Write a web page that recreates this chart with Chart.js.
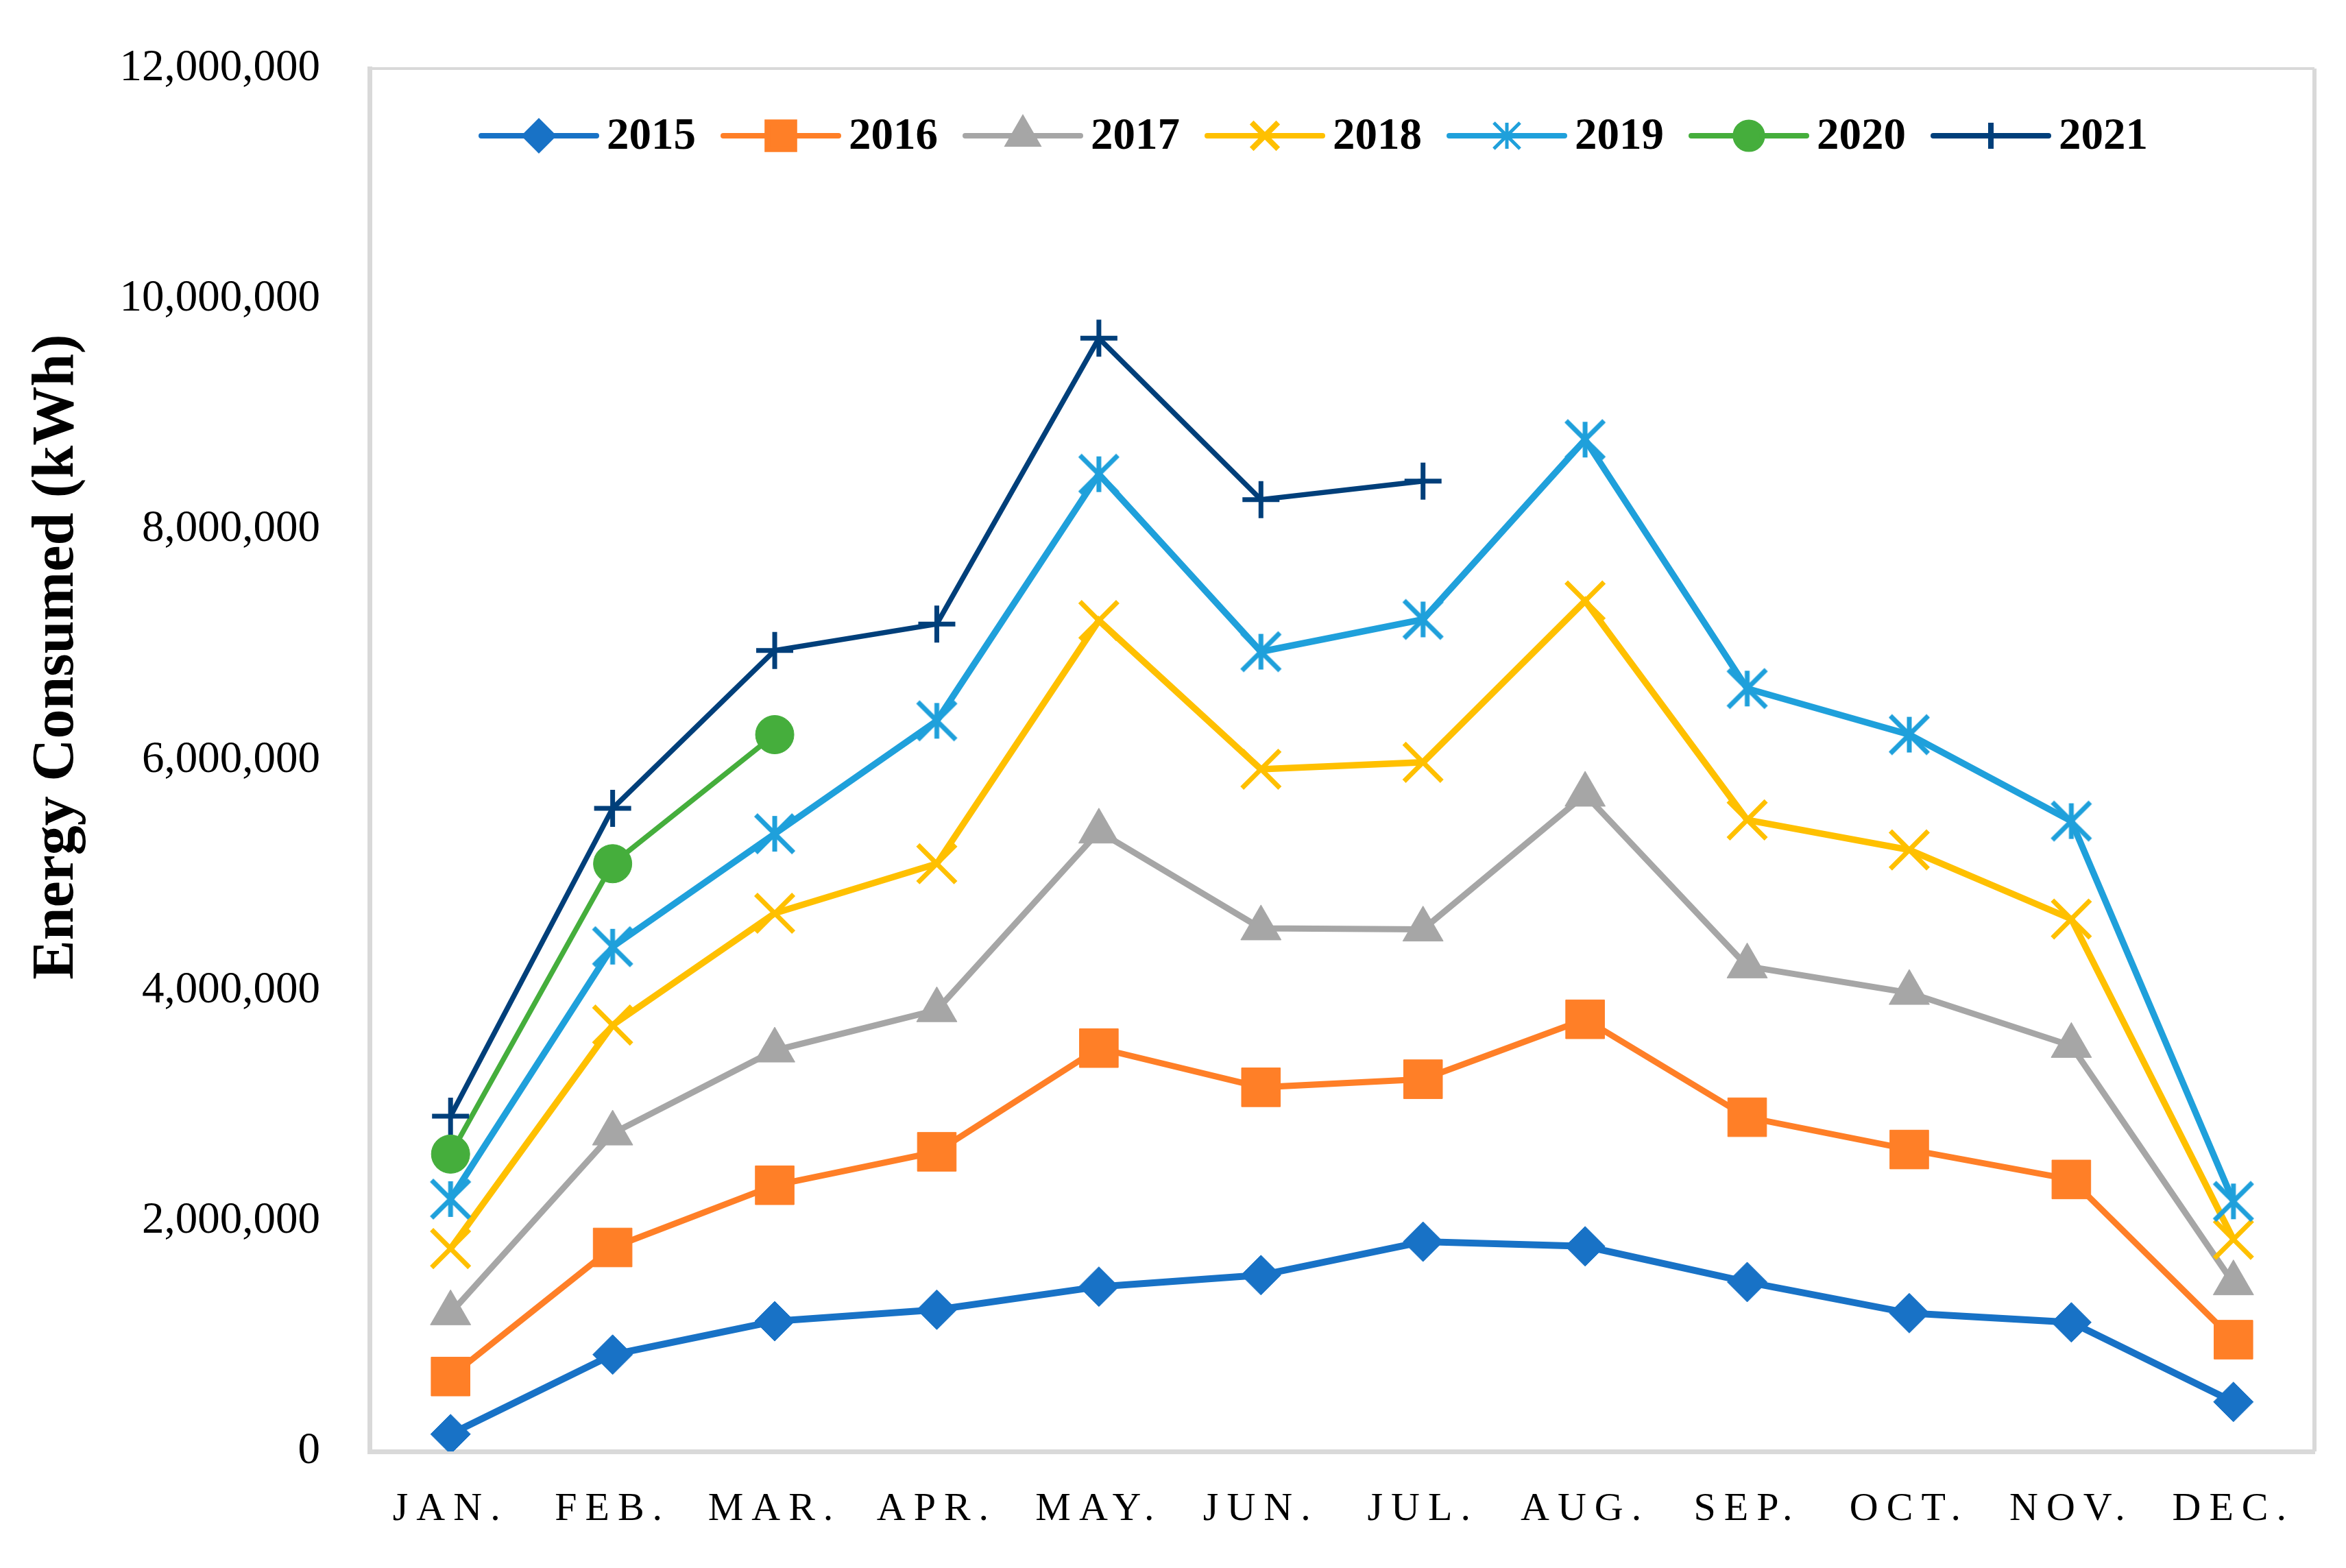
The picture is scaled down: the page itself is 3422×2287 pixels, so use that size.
<!DOCTYPE html>
<html lang="en">
  <head>
    <meta charset="UTF-8" />
    <title>Energy Consumed</title>
    <style>
      body { margin: 0; background: #fff; }
    </style>
  </head>
  <body>
    <canvas id="energyChart" width="3422" height="2287"></canvas>
    <script src="https://cdn.jsdelivr.net/npm/chart.js"></script>
    <script>
      const months = ['JAN.', 'FEB.', 'MAR.', 'APR.', 'MAY.', 'JUN.', 'JUL.', 'AUG.', 'SEP.', 'OCT.', 'NOV.', 'DEC.'];
      const years = ['2015', '2016', '2017', '2018', '2019', '2020', '2021'];

      const y2015 = [150000, 840000, 1130000, 1230000, 1430000, 1530000, 1820000, 1780000, 1470000, 1200000, 1120000, 430000];
      const y2016 = [650000, 1770000, 2310000, 2600000, 3500000, 3160000, 3230000, 3750000, 2900000, 2620000, 2360000, 970000];
      const y2017 = [1200000, 2760000, 3480000, 3830000, 5380000, 4540000, 4530000, 5700000, 4210000, 3980000, 3520000, 1460000];
      const y2018 = [1760000, 3700000, 4670000, 5100000, 7210000, 5920000, 5980000, 7380000, 5480000, 5220000, 4620000, 1840000];
      const y2019 = [2190000, 4380000, 5360000, 6340000, 8480000, 6940000, 7220000, 8780000, 6620000, 6220000, 5470000, 2170000];
      const y2020 = [2580000, 5100000, 6220000, null, null, null, null, null, null, null, null, null];
      const y2021 = [2910000, 5580000, 6950000, 7180000, 9660000, 8260000, 8420000, null, null, null, null, null];

      const yTicks = [0, 2000000, 4000000, 6000000, 8000000, 10000000, 12000000];
      const yTitle = 'Energy Consumed (kWh)';

      const serif = "'Liberation Serif', 'DejaVu Serif', serif";

      // six-ray asterisk like the spreadsheet "star" marker
      function asterisk(color, arm, stem, lw) {
        const size = Math.ceil(arm * 2 + lw * 2);
        const c = document.createElement('canvas');
        c.width = size;
        c.height = size;
        const g = c.getContext('2d');
        const m = size / 2;
        const d = arm * Math.SQRT1_2;
        g.strokeStyle = color;
        g.lineWidth = lw;
        g.beginPath();
        g.moveTo(m - d, m - d);
        g.lineTo(m + d, m + d);
        g.moveTo(m + d, m - d);
        g.lineTo(m - d, m + d);
        g.moveTo(m, m - stem);
        g.lineTo(m, m + stem);
        g.stroke();
        return c;
      }

      const starBig = asterisk('#1FA0DB', 39, 26, 7);
      const starSmall = asterisk('#1FA0DB', 27, 19, 5);

      // colour, line width, marker style, marker radius, marker border
      const looks = [
        { color: '#1872C6', width: 10, style: 'rectRot', r: 29, bw: 1 },
        { color: '#FF7F27', width: 9, style: 'rect', r: 40, bw: 1 },
        { color: '#A6A6A6', width: 9, style: 'triangle', r: 34, bw: 1 },
        { color: '#FFC000', width: 9.5, style: 'crossRot', r: 39, bw: 7 },
        { color: '#1FA0DB', width: 9.5, style: starBig, r: 32, bw: 7 },
        { color: '#45AE3C', width: 7.5, style: 'circle', r: 28, bw: 1 },
        { color: '#003F7A', width: 7.5, style: 'cross', r: 27, bw: 7 },
      ];
      const values = [y2015, y2016, y2017, y2018, y2019, y2020, y2021];

      const datasets = years.map((year, i) => ({
        label: year,
        data: values[i],
        borderColor: looks[i].color,
        backgroundColor: looks[i].color,
        borderWidth: looks[i].width,
        pointStyle: looks[i].style,
        pointRadius: looks[i].r,
        pointBorderWidth: looks[i].bw,
        pointBackgroundColor: looks[i].color,
        pointBorderColor: looks[i].color,
        tension: 0,
        fill: false,
        order: years.length - i,
      }));

      // plot border on the top and right sides (left/bottom come from the axes)
      const plotFrame = {
        id: 'plotFrame',
        beforeDatasetsDraw(chart) {
          const { ctx, chartArea: a } = chart;
          ctx.save();
          ctx.strokeStyle = '#D9D9D9';
          ctx.lineWidth = 4;
          ctx.beginPath();
          ctx.moveTo(a.left, a.top);
          ctx.lineTo(a.right, a.top);
          ctx.stroke();
          ctx.lineWidth = 6;
          ctx.beginPath();
          ctx.moveTo(a.right, a.top);
          ctx.lineTo(a.right, a.bottom);
          ctx.stroke();
          ctx.restore();

          // axis title sits above the middle of the axis in the original
          ctx.save();
          ctx.translate(84, 958);
          ctx.rotate(-Math.PI / 2);
          ctx.fillStyle = '#000';
          ctx.font = "bold 86px " + serif;
          ctx.textAlign = 'center';
          ctx.textBaseline = 'middle';
          ctx.fillText(yTitle, 0, 0);
          ctx.restore();
        },
      };

      // legend inside the plot, line + marker like the spreadsheet legend
      const innerLegend = {
        id: 'innerLegend',
        afterDraw(chart) {
          const ctx = chart.ctx;
          const y = 198;
          let x = 702;
          ctx.save();
          chart.data.datasets.forEach((ds) => {
            ctx.strokeStyle = ds.borderColor;
            ctx.lineWidth = 8;
            ctx.lineCap = 'round';
            ctx.beginPath();
            ctx.moveTo(x, y);
            ctx.lineTo(x + 168, y);
            ctx.stroke();
            ctx.lineCap = 'butt';
            ctx.fillStyle = ds.borderColor;
            const style = ds.pointStyle === starBig ? starSmall : ds.pointStyle;
            Chart.helpers.drawPoint(ctx, {
              pointStyle: style,
              radius: ds.pointRadius * 0.7,
              rotation: 0,
              borderWidth: Math.max(ds.pointBorderWidth - 2, 1),
            }, x + 84, y);
            ctx.fillStyle = '#000';
            ctx.font = "bold 65px " + serif;
            ctx.textBaseline = 'middle';
            ctx.textAlign = 'left';
            ctx.fillText(ds.label, x + 183, y + 2);
            x += 353;
          });
          ctx.restore();
        },
      };

      const context = document.getElementById('energyChart').getContext('2d');
      const chart = new Chart(context, {
        type: 'line',
        data: { labels: months, datasets: datasets },
        options: {
          responsive: false,
          devicePixelRatio: 1,
          animation: false,
          layout: { padding: { top: 100, right: 39, bottom: 0, left: 0 } },
          plugins: {
            legend: { display: false },
            tooltip: { enabled: false },
          },
          scales: {
            x: {
              offset: true,
              grid: { display: false, drawTicks: false },
              border: { display: true, color: '#D9D9D9', width: 7 },
              ticks: {
                color: '#000',
                padding: 50,
                font: { family: serif, size: 58 },
              },
              afterFit(scale) {
                scale.height = 170;
              },
              afterUpdate(scale) {
                if (scale._spaced) return;
                const orig = scale.drawLabels;
                scale.drawLabels = function (area) {
                  this.ctx.save();
                  this.ctx.letterSpacing = '12px';
                  orig.call(this, area);
                  this.ctx.restore();
                };
                scale._spaced = true;
              },
            },
            y: {
              min: 0,
              max: 12000000,
              afterBuildTicks(scale) {
                scale.ticks = yTicks.map((v) => ({ value: v }));
              },
              grid: { display: false, drawTicks: false },
              border: { display: true, color: '#D9D9D9', width: 7 },
              ticks: {
                color: '#000',
                padding: 72,
                font: { family: serif, size: 65 },
                callback: (v) => Number(v).toLocaleString('en-US'),
              },
              afterFit(scale) {
                scale.width = 539;
                // tick padding is horizontal here; don't let it push the plot down
                scale.paddingTop = 40;
                scale.paddingBottom = 40;
              },
            },
          },
        },
        plugins: [plotFrame, innerLegend],
      });
    </script>
  </body>
</html>
